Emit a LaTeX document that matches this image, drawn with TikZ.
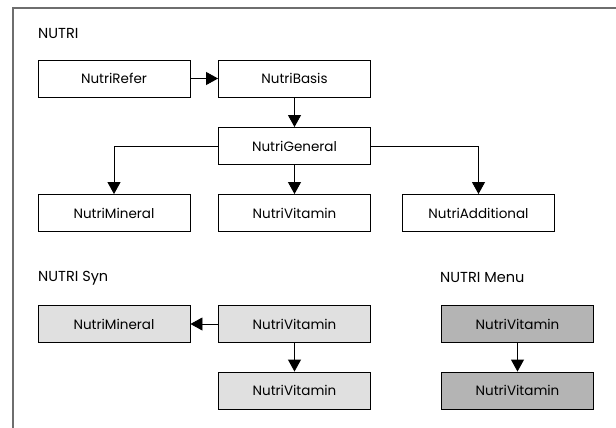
\documentclass[tikz,border=0pt]{standalone}
\usepackage{fontspec}
\setmainfont{Poppins}
\usetikzlibrary{arrows.meta}
\definecolor{synfill}{HTML}{E0E0E0}
\definecolor{menufill}{HTML}{B4B4B4}
\definecolor{framecol}{HTML}{6E6E6E}
\begin{document}
\begin{tikzpicture}[x=1pt,y=-1pt,
  box/.style={draw=black,line width=0.9pt,minimum width=152pt,minimum height=37pt,inner sep=0pt,font=\fontsize{13.5}{15}\selectfont},
  synbox/.style={box,fill=synfill},
  menubox/.style={box,fill=menufill},
  lbl/.style={anchor=west,inner sep=0pt,font=\fontsize{14.5}{16}\selectfont},
  conn/.style={line width=0.9pt,-{Triangle[length=12pt,width=13pt]}}]
\useasboundingbox (0,0) rectangle (616,428);
\draw[framecol,line width=1.5pt] (13,428) -- (13,8) -- (616,8);
\node[lbl] (t1) at (38,33) {NUTRI};
\node[box] (refer) at (114,78.5) {NutriRefer};
\node[box] (basis) at (294.5,78.5) {NutriBasis};
\node[box] (general) at (294.5,146) {NutriGeneral};
\node[box] (mineral) at (114,213) {NutriMineral};
\node[box] (vitamin) at (294.5,213) {NutriVitamin};
\node[box] (additional) at (478.5,213) {NutriAdditional};
\draw[conn] (refer) -- (basis);
\draw[conn] (basis) -- (general);
\draw[conn] (general.west) -| (mineral.north);
\draw[conn] (general) -- (vitamin);
\draw[conn] (general.east) -| (additional.north);
\node[lbl] (t2) at (38,278) {NUTRI Syn};
\node[lbl] (t3) at (440,278) {NUTRI Menu};
\node[synbox] (smineral) at (114,324) {NutriMineral};
\node[synbox] (svit1) at (294.5,324) {NutriVitamin};
\node[synbox] (svit2) at (294.5,390.5) {NutriVitamin};
\draw[conn] (svit1) -- (smineral);
\draw[conn] (svit1) -- (svit2);
\node[menubox] (mvit1) at (517.5,324) {NutriVitamin};
\node[menubox] (mvit2) at (517.5,390.5) {NutriVitamin};
\draw[conn] (mvit1) -- (mvit2);
\end{tikzpicture}
\end{document}
